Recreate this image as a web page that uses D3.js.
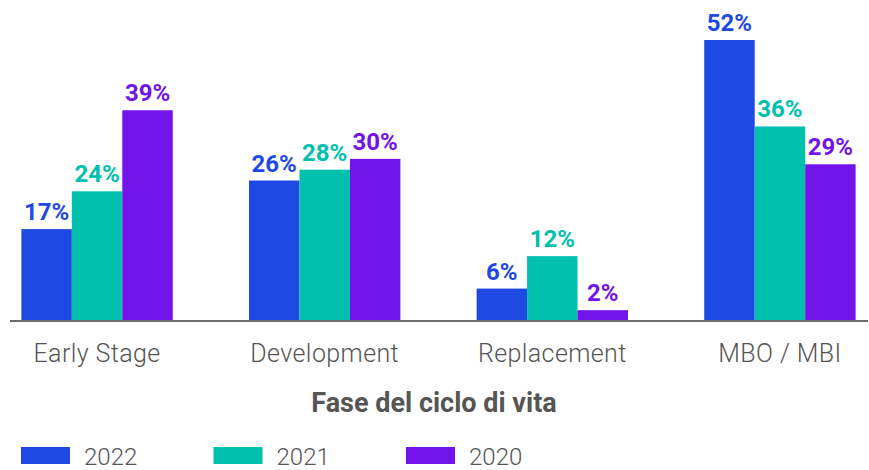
<!DOCTYPE html>
<html><head><meta charset="utf-8">
<script src="https://cdn.jsdelivr.net/npm/d3@7"></script>
<style>body{margin:0;background:#fff}svg{display:block}</style>
</head><body>
<svg id="c" width="869" height="470"></svg>
<script>
const categories = ["Early Stage","Development","Replacement","MBO / MBI"];
const series = ["2022","2021","2020"];
const values2022 = [17,26,6,52];
const values2021 = [24,28,12,36];
const values2020 = [39,30,2,29];
const colors = ["#1E49E2","#00C0AE","#7213EA"];
const allValues = [values2022, values2021, values2020];

const svg = d3.select("#c");
const baseY = 321;
const x = d3.scaleBand().domain(categories).range([10,867]).paddingInner(0.335).paddingOuter(0.05);
const xs = d3.scaleBand().domain(series).range([0,x.bandwidth()]);
const y = d3.scaleLinear().domain([0,52]).range([baseY,40]);

const g = svg.append("g");
categories.forEach((c,i)=>{
  series.forEach((s,j)=>{
    const v = allValues[j][i];
    g.append("rect").attr("x",x(c)+xs(s)).attr("y",y(v)).attr("width",xs.bandwidth()).attr("height",baseY-y(v)).attr("fill",colors[j]);
    g.append("text").attr("x",x(c)+xs(s)+xs.bandwidth()/2).attr("y",y(v)-9)
      .attr("text-anchor","middle").attr("font-family","Roboto, sans-serif").attr("font-weight",700)
      .attr("font-size",24).attr("fill",colors[j]).text(v+"%");
  });
});

const axis = d3.axisBottom(x).tickSize(0).tickPadding(0);
const ax = svg.append("g").attr("transform",`translate(0,${baseY})`).call(axis);
ax.select(".domain").attr("stroke","#6b6b6b").attr("stroke-width",2).attr("d","M10,0H868");
ax.selectAll("text").attr("dy",null).attr("y",41).attr("font-family","Roboto, sans-serif").attr("font-weight",300)
  .attr("font-size",25).attr("letter-spacing","0.4px").attr("fill","#555");

svg.append("text").attr("x",434).attr("y",412).attr("text-anchor","middle")
  .attr("font-family","Roboto, sans-serif").attr("font-weight",700).attr("font-size",27).attr("fill","#555")
  .text("Fase del ciclo di vita");

const lg = svg.append("g");
series.forEach((s,j)=>{
  const lx = 21 + j*192.5;
  lg.append("rect").attr("x",lx).attr("y",447).attr("width",49).attr("height",17).attr("fill",colors[j]);
  lg.append("text").attr("x",lx+63).attr("y",465).attr("font-family","Roboto, sans-serif").attr("font-weight",300)
    .attr("font-size",24).attr("fill","#555").text(s);
});
</script>
</body></html>
